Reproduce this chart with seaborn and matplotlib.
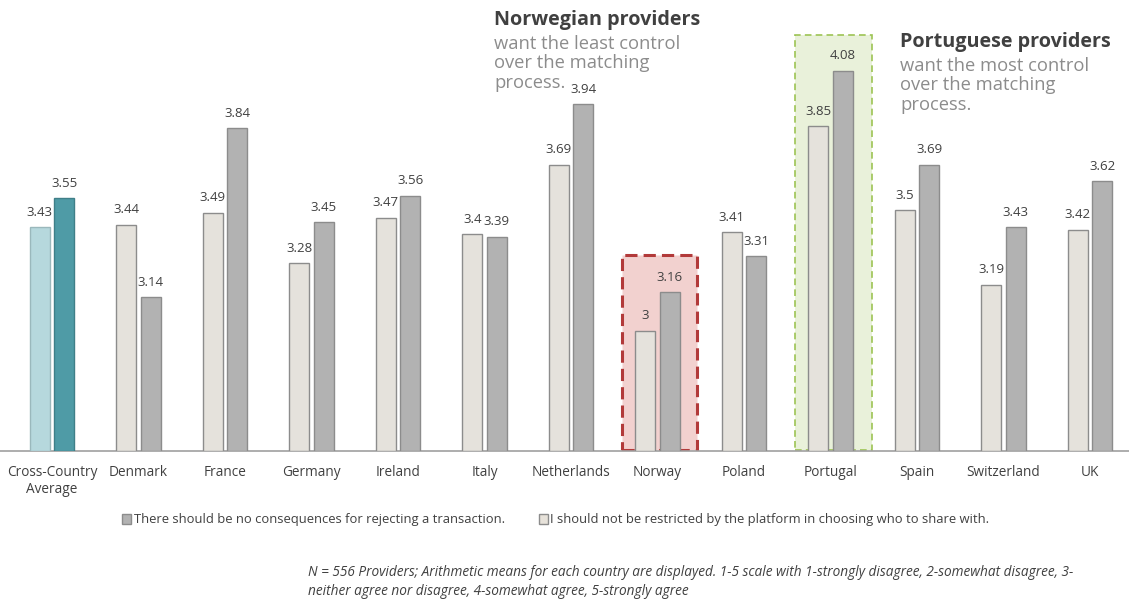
import matplotlib
matplotlib.use("Agg")
import matplotlib.pyplot as plt
from matplotlib.patches import Rectangle, Patch
import seaborn as sns
import pandas as pd

countries = ["Cross-Country\nAverage", "Denmark", "France", "Germany", "Ireland", "Italy",
             "Netherlands", "Norway", "Poland", "Portugal", "Spain", "Switzerland", "UK"]
not_restricted = [3.43, 3.44, 3.49, 3.28, 3.47, 3.4, 3.69, 3, 3.41, 3.85, 3.5, 3.19, 3.42]
no_consequences = [3.55, 3.14, 3.84, 3.45, 3.56, 3.39, 3.94, 3.16, 3.31, 4.08, 3.69, 3.43, 3.62]
series_names = ["I should not be restricted by the platform in choosing who to share with.",
                "There should be no consequences for rejecting a transaction."]

LIGHT = "#E7E2DA"
DARK = "#B2B2B2"
TEAL_LIGHT = "#B6D8DD"
TEAL_DARK = "#4F9BA6"
EDGE = "#8C8C8C"
TXT = "#404040"

sns.set_theme(style="white")
plt.rcParams["font.family"] = ["Open Sans", "DejaVu Sans"]

df = pd.DataFrame({
    "country": countries * 2,
    "value": not_restricted + no_consequences,
    "series": [series_names[0]] * len(countries) + [series_names[1]] * len(countries),
})

fig = plt.figure(figsize=(11.29, 5.99), dpi=100)
ax = fig.add_axes([0.0, 0.2471, 1.0, 0.7529])

base = 2.5
df["height"] = df["value"] - base
sns.barplot(data=df, x="country", y="height", hue="series", hue_order=series_names,
            palette=[LIGHT, DARK], width=0.566, gap=0.18, bottom=base, ax=ax,
            legend=False, zorder=3, edgecolor=EDGE, linewidth=1.0)

first = ax.containers[0]
second = ax.containers[1]
first[0].set_facecolor(TEAL_LIGHT)
first[0].set_edgecolor("#9AB8BC")
second[0].set_facecolor(TEAL_DARK)
second[0].set_edgecolor("#3F7F88")

for cont, vals in ((first, not_restricted), (second, no_consequences)):
    for bar, v in zip(cont, vals):
        cx = bar.get_x() + bar.get_width() / 2
        ax.text(cx, v + 0.035, f"{v:g}", ha="center", va="bottom",
                fontsize=9.5, color=TXT, zorder=5)

ax.set_ylim(base, base + 451 / 240.7)
ax.set_xlim(-0.6, 12.45)

# highlight boxes
ax.add_patch(Rectangle((6.595, base + 0.005), 0.865, 0.81, facecolor="#F2D1CF",
                       edgecolor="#B23A3A", linestyle=(0, (4, 2)), linewidth=2.2, zorder=1))
ax.add_patch(Rectangle((8.595, base + 0.005), 0.88, 1.724, facecolor="#E9F1DA",
                       edgecolor="#9DC454", linestyle=(0, (4, 2.5)), linewidth=1.2, zorder=1))

for s in ("left", "right", "top"):
    ax.spines[s].set_visible(False)
ax.spines["bottom"].set_color("#A0A0A0")
ax.spines["bottom"].set_linewidth(1.2)
ax.set_yticks([])
ax.set_xlabel("")
ax.set_ylabel("")
ax.tick_params(axis="x", length=0, pad=10, labelsize=9.8, labelcolor=TXT)


def callout(x, y, title, lines):
    fig.text(x / 1129, 1 - y / 599, title, fontsize=14.2, fontweight="bold",
             color="#404040", va="center", ha="left")
    for i, line in enumerate(lines):
        fig.text(x / 1129, 1 - (y + 24 + 19.5 * i) / 599, line, fontsize=13.2,
                 color="#8C8C8C", va="center", ha="left")


callout(494, 20, "Norwegian providers", ["want the least control", "over the matching", "process."])
callout(900, 42, "Portuguese providers", ["want the most control", "over the matching", "process."])

small = {"family": ["Open Sans", "DejaVu Sans"], "size": 9.4}
fig.legend(handles=[Patch(facecolor=DARK, edgecolor=EDGE)], labels=[series_names[1]],
           loc="center left", bbox_to_anchor=(110 / 1129, 1 - 520 / 599), frameon=False,
           handlelength=0.7, handleheight=0.7, handletextpad=0.2,
           prop=small, labelcolor=TXT)
fig.legend(handles=[Patch(facecolor=LIGHT, edgecolor=EDGE)], labels=[series_names[0]],
           loc="center left", bbox_to_anchor=(527 / 1129, 1 - 520 / 599), frameon=False,
           handlelength=0.7, handleheight=0.7, handletextpad=0.2,
           prop=small, labelcolor=TXT)

fig.text(308 / 1129, 1 - 582 / 599,
         "N = 556 Providers; Arithmetic means for each country are displayed. 1-5 scale with 1-strongly disagree, 2-somewhat disagree, 3-\n"
         "neither agree nor disagree, 4-somewhat agree, 5-strongly agree",
         family=["Open Sans", "DejaVu Sans"], style="italic", fontsize=9.8, color=TXT,
         va="center", ha="left", linespacing=1.3)

fig.savefig("out.png", dpi=100)
